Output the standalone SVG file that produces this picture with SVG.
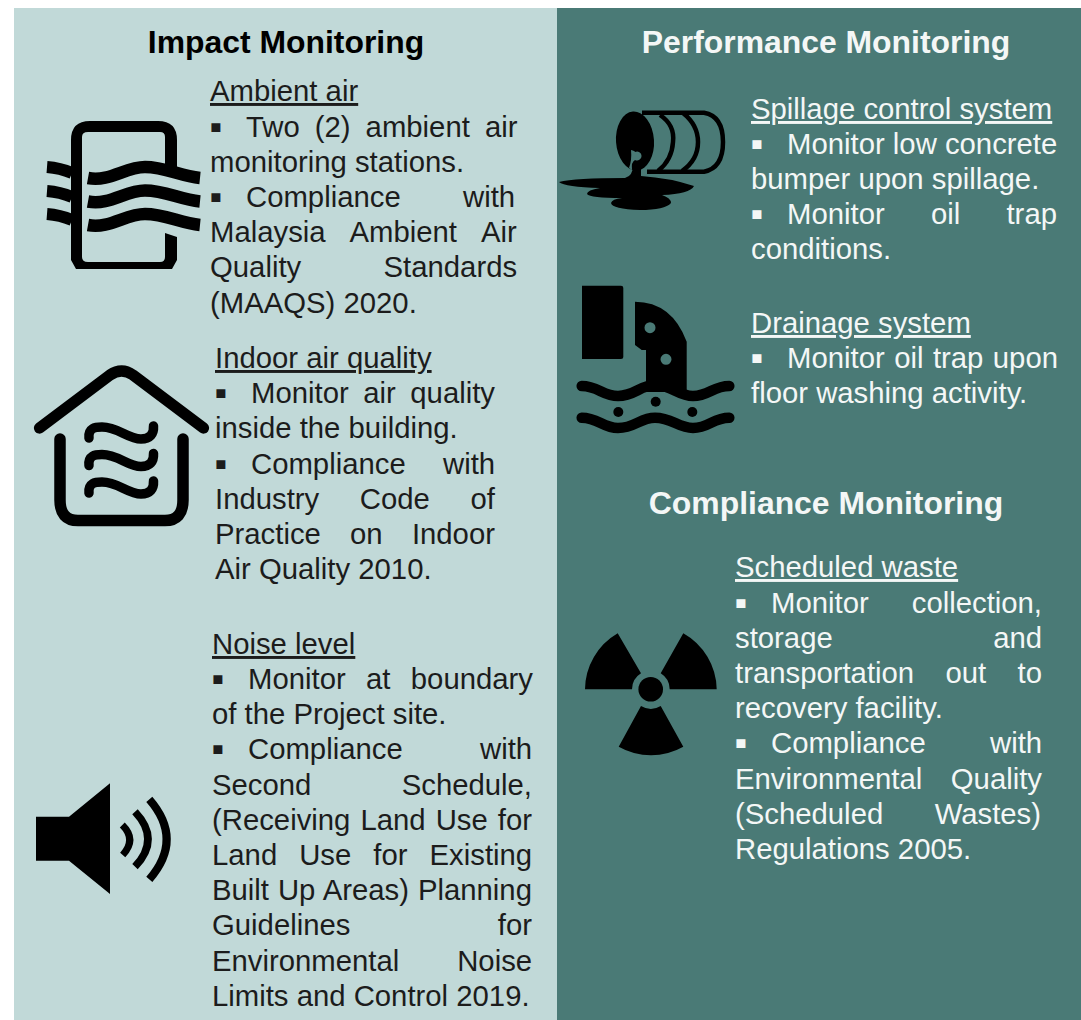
<svg xmlns="http://www.w3.org/2000/svg" width="1081" height="1020" viewBox="0 0 1081 1020">
<style>
text{font-family:"Liberation Sans",Arial,sans-serif;font-size:29.3px;white-space:pre}
.title{font-size:31.9px;font-weight:700;text-anchor:middle}
.l{fill:#1c1c1c}.d{fill:#f4f7f6}
.h{text-decoration:underline}
.b{font-size:36px}
.k{fill:#000}
.ln{fill:none;stroke:#000;stroke-linejoin:round}
.r{stroke-linecap:round}
</style>
<rect id="panel-left" x="14" y="8" width="543" height="1012" fill="#c1d9d8"/>
<rect id="panel-right" x="557" y="8" width="524" height="1012" fill="#4a7a76"/>

<g id="impact-monitoring" class="l">
<text class="title k" x="286" y="53">Impact Monitoring</text>
</g>
<g id="ambient-air" class="l">
<path class="k" fill-rule="evenodd" d="M71 140Q71 121 90 121H158Q177 121 177 140V170L165 166V137Q165 132 160 132H88Q82 132 82 137V257Q82 262 88 262H160Q165 262 165 257V233L177 237V260L172 269H76L71 260Z"/>
<g class="ln" stroke-width="12">
<path d="M47 167Q60 168 72 173"/><path d="M47 191Q60 192 72 197"/><path d="M47 214Q60 215 72 220"/>
</g>
<g class="ln" stroke-width="12.5">
<path d="M88 178C110 182 125 167 145 167C165 167 180 176 200 178"/>
<path d="M88 201.500C110 205.500 125 190.500 145 190.500C165 190.500 180 199.500 200 201.500"/>
<path d="M88 225C110 229 125 214 145 214C165 214 180 223 200 225"/>
</g>
<text class="h" x="210" y="101">Ambient air</text>
<text class="b" x="209.500" y="139">▪</text><text x="246" y="137" word-spacing="6.9">Two (2) ambient air</text>
<text x="210" y="172">monitoring stations.</text>
<text class="b" x="209.500" y="209">▪</text><text x="246" y="207" word-spacing="54.2">Compliance with</text>
<text x="210" y="242" word-spacing="17.4">Malaysia Ambient Air</text>
<text x="210" y="277" word-spacing="74.2">Quality Standards</text>
<text x="210" y="313">(MAAQS) 2020.</text>
</g>
<g id="indoor-air-quality" class="l">
<path class="ln r" stroke-width="11.300" d="M39.500 428L110 375Q121.700 367 133 375L203.500 428"/>
<path class="ln r" stroke-width="11.500" d="M60 439V500Q60 520.500 78 520.500H165Q183 520.500 183 500V439"/>
<g class="ln r" stroke-width="9.500">
<path d="M89 438C88 428 95 427 102 427C118 427 128 439 141 439C150 439 154 434 153.500 426"/>
<path d="M89 465.500C88 455.500 95 454.500 102 454.500C118 454.500 128 466.500 141 466.500C150 466.500 154 461.500 153.500 453.500"/>
<path d="M89 493C88 483 95 482 102 482C118 482 128 494 141 494C150 494 154 489 153.500 481"/>
</g>
<text class="h" x="215" y="368">Indoor air quality</text>
<text class="b" x="214.500" y="405">▪</text><text x="251" y="403" word-spacing="6.4">Monitor air quality</text>
<text x="215" y="438">inside the building.</text>
<text class="b" x="214.500" y="476">▪</text><text x="251" y="474" word-spacing="29.2">Compliance with</text>
<text x="215" y="509" word-spacing="32.5">Industry Code of</text>
<text x="215" y="544" word-spacing="21.1">Practice on Indoor</text>
<text x="215" y="579">Air Quality 2010.</text>
</g>
<g id="noise-level" class="l">
<path class="k" d="M36 816.700H69L110 783.300V894L69 860.700H36Z"/>
<g class="ln">
<path stroke-width="7" d="M122.300 825Q137 839.500 122.700 855"/>
<path stroke-width="7.500" d="M135 811.700Q161 839.300 135 866.700"/>
<path stroke-width="8" d="M149.300 799.300Q184 839.300 149.300 879.300"/>
</g>
<text class="h" x="212" y="654">Noise level</text>
<text class="b" x="211.500" y="691">▪</text><text x="248" y="689" word-spacing="12.2">Monitor at boundary</text>
<text x="212" y="724">of the Project site.</text>
<text class="b" x="211.500" y="761">▪</text><text x="248" y="759" word-spacing="69.2">Compliance with</text>
<text x="212" y="795" word-spacing="82.2">Second Schedule,</text>
<text x="212" y="830" word-spacing="1.9">(Receiving Land Use for</text>
<text x="212" y="865" word-spacing="13.9">Land Use for Existing</text>
<text x="212" y="900" word-spacing="0.8">Built Up Areas) Planning</text>
<text x="212" y="935" word-spacing="139.3">Guidelines for</text>
<text x="212" y="971" word-spacing="49.8">Environmental Noise</text>
<text x="212" y="1006">Limits and Control 2019.</text>
</g>

<g id="performance-monitoring" class="d">
<text class="title" x="826" y="53">Performance Monitoring</text>
</g>
<g id="spillage-control-system" class="d">
<ellipse class="k" cx="635" cy="141" rx="19" ry="29.500" transform="rotate(-4 635 141)"/>
<g class="ln" stroke-width="4.500">
<path d="M642 112.700H704Q723 116 723 142Q723 168 704 171.700H647"/>
<path d="M660 115Q675 125 673 142Q672 160 658 171"/>
<path d="M683 113Q698 125 698 142Q698 160 682 171"/>
</g>
<path class="k" d="M559 182Q575 178 625 178Q633 176 633 165H641V176Q670 178 694 186Q690 194 662 195Q671 198 671 203Q665 210 640 210Q612 209 611 203Q612 199 622 198Q590 198 587 194Q587 190 600 188Q565 187 559 182Z"/>
<path fill="#4a7a76" d="M631 150Q635 151 635 152A4.500 4.500 0 1 1 635 160Q631 162 632 170L629 168Q632 160 631 150Z"/>
<text class="h" x="751" y="119">Spillage control system</text>
<text class="b" x="750.500" y="156">▪</text><text x="787" y="154">Monitor low concrete</text>
<text x="751" y="189">bumper upon spillage.</text>
<text class="b" x="750.500" y="226">▪</text><text x="787" y="224" word-spacing="38.1">Monitor oil trap</text>
<text x="751" y="259">conditions.</text>
</g>
<g id="drainage-system" class="d">
<path class="k" d="M582 285.700H621Q623.300 285.700 623.300 288V357Q623.300 359 621 359H582Z"/>
<path class="k" fill-rule="evenodd" d="M635 301.700Q672 302 686.700 341.700V392H646V350H641.700L635 345ZM655.500 327.700A5.500 5.500 0 1 0 644.500 327.700A5.500 5.500 0 1 0 655.500 327.700ZM671.500 359.300A5.500 5.500 0 1 0 660.500 359.300A5.500 5.500 0 1 0 671.500 359.300Z"/>
<g class="ln r" stroke-width="10.500">
<path d="M581.700 386C598 386 603 396 618 396C635 396 640 385 655 385C672 385 678 396 693 396C709 396 713 386 729.300 386"/>
<path d="M581.700 417.700C598 417.700 603 428 618 428C635 428 640 417.700 655 417.700C672 417.700 678 428 693 428C709 428 713 417.700 729.300 417.700"/>
</g>
<circle class="k" cx="618.300" cy="412" r="5"/><circle class="k" cx="655.700" cy="401.700" r="5"/><circle class="k" cx="692.300" cy="412" r="5"/>
<text class="h" x="751" y="333">Drainage system</text>
<text class="b" x="750.500" y="370">▪</text><text x="787" y="368" word-spacing="1.3">Monitor oil trap upon</text>
<text x="751" y="403">floor washing activity.</text>
</g>
<g id="compliance-monitoring" class="d">
<text class="title" x="826" y="514">Compliance Monitoring</text>
</g>
<g id="scheduled-waste" class="d">
<g class="k">
<circle cx="650.700" cy="689.300" r="12.300"/>
<path d="M585 689.300A65.500 65.500 0 0 1 617.700 633.300L641 673.300A19 19 0 0 0 632 689.300Z"/>
<path d="M716.700 689.300A65.500 65.500 0 0 0 683.300 633.300L660.700 673.300A19 19 0 0 1 669.700 689.300Z"/>
<path d="M618.700 746.700A65.500 65.500 0 0 0 683.300 746.700L660.700 706A19 19 0 0 1 641 706Z"/>
</g>
<text class="h" x="735" y="577">Scheduled waste</text>
<text class="b" x="734.500" y="615">▪</text><text x="771" y="613" word-spacing="34.9">Monitor collection,</text>
<text x="735" y="648" word-spacing="152.3">storage and</text>
<text x="735" y="683" word-spacing="23.2">transportation out to</text>
<text x="735" y="718">recovery facility.</text>
<text class="b" x="734.500" y="755">▪</text><text x="771" y="753" word-spacing="56.2">Compliance with</text>
<text x="735" y="789" word-spacing="20.4">Environmental Quality</text>
<text x="735" y="824" word-spacing="43.3">(Scheduled Wastes)</text>
<text x="735" y="859">Regulations 2005.</text>
</g>
</svg>
